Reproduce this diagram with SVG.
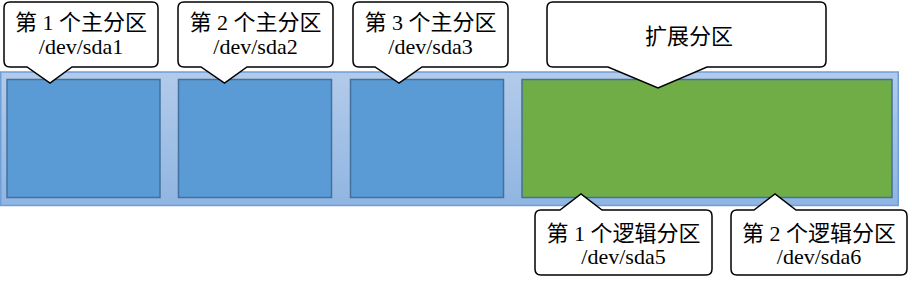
<svg xmlns="http://www.w3.org/2000/svg" width="912" height="281" viewBox="0 0 912 281">
<defs>
<linearGradient id="barg" x1="0" y1="0" x2="0" y2="1">
<stop offset="0" stop-color="#b3cbea"/>
<stop offset="1" stop-color="#90b5e2"/>
</linearGradient>
</defs>
<style>
.bar{fill:url(#barg);stroke:#6f9fd8;stroke-width:1.5}
.prim{fill:#5b9bd5;stroke:#41719c;stroke-width:1.5}
.ext{fill:#70ad47;stroke:#41719c;stroke-width:1.5}
.call{fill:#ffffff;stroke:#000000;stroke-width:1.5;stroke-linejoin:miter}
.t{font-family:"Liberation Serif","Noto Sans CJK SC",serif;font-size:22px;fill:#000000;text-anchor:middle}
</style>
<g id="disk">
<rect class="bar" x="0.75" y="72" width="897.5" height="133.5"/>
</g>
<g id="sda1-box"><rect class="prim" x="7" y="79.5" width="153" height="118"/></g>
<g id="sda2-box"><rect class="prim" x="178.5" y="79.5" width="153" height="118"/></g>
<g id="sda3-box"><rect class="prim" x="350.5" y="79.5" width="153" height="118"/></g>
<g id="ext-box"><rect class="ext" x="522" y="79.5" width="370" height="118"/></g>
<g id="connectors"></g>
<g id="callout-sda1">
<path class="call" d="M10,2 H152 Q158,2 158,8 V61 Q158,67 152,67 H72 L50,83 L27,67 H10 Q4,67 4,61 V8 Q4,2 10,2 Z"/>
<text class="t" x="81" y="30">第 1 个主分区</text>
<text class="t" x="81" y="54">/dev/sda1</text>
</g>
<g id="callout-sda2">
<path class="call" d="M184,2 H327 Q333,2 333,8 V61 Q333,67 327,67 H247 L224.5,83 L201,67 H184 Q178,67 178,61 V8 Q178,2 184,2 Z"/>
<text class="t" x="255.5" y="30">第 2 个主分区</text>
<text class="t" x="255.5" y="54">/dev/sda2</text>
</g>
<g id="callout-sda3">
<path class="call" d="M359,2 H502 Q508,2 508,8 V61 Q508,67 502,67 H422 L399,83 L375,67 H359 Q353,67 353,61 V8 Q353,2 359,2 Z"/>
<text class="t" x="430.5" y="30">第 3 个主分区</text>
<text class="t" x="430.5" y="54">/dev/sda3</text>
</g>
<g id="callout-ext">
<path class="call" d="M553,2 H820 Q826,2 826,8 V61 Q826,67 820,67 H707 L658,88 L608,67 H553 Q547,67 547,61 V8 Q547,2 553,2 Z"/>
<text class="t" x="689" y="44">扩展分区</text>
</g>
<g id="callout-sda5">
<path class="call" d="M541,210 H560 L581,194 L602,210 H706 Q712,210 712,216 V269 Q712,275 706,275 H541 Q535,275 535,269 V216 Q535,210 541,210 Z"/>
<text class="t" x="623.5" y="241">第 1 个逻辑分区</text>
<text class="t" x="623.5" y="264">/dev/sda5</text>
</g>
<g id="callout-sda6">
<path class="call" d="M737,210 H754 L775,194 L796,210 H901 Q907,210 907,216 V269 Q907,275 901,275 H737 Q731,275 731,269 V216 Q731,210 737,210 Z"/>
<text class="t" x="819" y="241">第 2 个逻辑分区</text>
<text class="t" x="819" y="264">/dev/sda6</text>
</g>
</svg>
